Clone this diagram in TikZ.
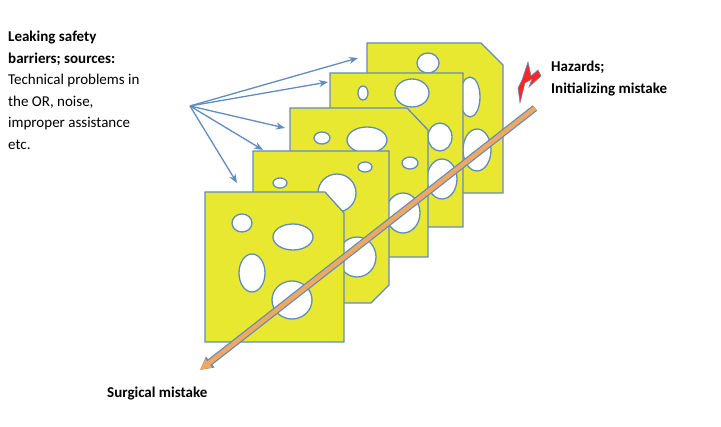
\documentclass[tikz,border=0pt]{standalone}
\usepackage{fontspec}
\setmainfont{Carlito}
\usetikzlibrary{arrows.meta}
\definecolor{cheese}{RGB}{232,232,48}
\definecolor{rim}{RGB}{96,140,190}
\definecolor{ray}{RGB}{240,168,96}
\tikzset{
  slice/.style={draw=rim, fill=cheese, line width=1.3pt},
  hole/.style={draw=rim, fill=white, line width=1.3pt},
  pointer/.style={draw=rim, line width=1.3pt, -{Stealth[length=9pt,width=7pt]}},
  lbl/.style={font=\fontsize{15}{21.5}\selectfont, align=left, anchor=north west, inner sep=0pt}
}
\begin{document}
\begin{tikzpicture}[x=1pt, y=-1pt]
\useasboundingbox (0,0) rectangle (721,427);

% slices, back to front
\path[slice] (367,43) -- (481,43) -- (503,65) -- (503,193) -- (367,193) -- cycle;
\path[hole] (428,63) ellipse (11pt and 10pt) (470,97) ellipse (10pt and 20pt) (477,150) ellipse (14pt and 21pt);

\path[slice] (330,73) -- (463,73) -- (463,227) -- (348,227) -- (330,207) -- cycle;
\path[hole] (363,93) ellipse (5pt and 7pt) (412,93) ellipse (17pt and 14pt) (440,137) ellipse (12pt and 14pt) (442,179) ellipse (15pt and 20pt);

\path[slice] (290,108) -- (407,108) -- (428,130) -- (428,257) -- (290,257) -- cycle;
\path[hole] (322,138) ellipse (8pt and 6pt) (367,140) ellipse (20pt and 13pt) (410,163) ellipse (8pt and 6pt) (403,213) ellipse (17pt and 20pt);

\path[slice] (253,151) -- (389,151) -- (389,285) -- (371,303) -- (253,303) -- cycle;
\path[hole] (280,183) ellipse (7pt and 5pt) (365,167) ellipse (7pt and 5pt) (337,193) ellipse (19pt and 19pt) (357,257) ellipse (19pt and 20pt);

\path[slice] (205,192) -- (325,192) -- (344,213) -- (344,342) -- (205,342) -- cycle;
\path[hole] (242,223) ellipse (10pt and 9pt) (293,237) ellipse (20pt and 13pt) (252,273) ellipse (13pt and 19pt) (292,300) ellipse (20pt and 19pt);

% the accident trajectory
\coordinate (start) at (535,108);
\coordinate (stop) at (200,370);
\draw[rim, line width=7pt, -{Triangle[length=13pt,width=13pt]}] (start) -- (stop);
\draw[ray, line width=4.5pt, -{Triangle[length=11pt,width=10pt]}] (start) -- (stop);

% hazard bolt
\filldraw[fill=red!85!white, draw=rim, line width=0.6pt]
  (528,62) -- (531,76) -- (538,70) -- (541,76) -- (529,87) -- (532,79) -- (525,83) -- (520,103) -- (518,88) -- (522,80) -- cycle;

% labels
\node[lbl] (barriers) at (8,31) {\textbf{Leaking safety}\\\textbf{barriers; sources:}\\Technical problems in\\the OR, noise,\\improper assistance\\etc.};
\node[lbl] (hazards) at (551,61) {\textbf{Hazards;}\\\textbf{Initializing mistake}};
\node[lbl] (surgical) at (107,387) {\textbf{Surgical mistake}};

% pointers to the barriers
\coordinate (src) at (190,106);
\coordinate (t5) at (358,58);
\coordinate (t4) at (328,82);
\coordinate (t3) at (285,128);
\coordinate (t2) at (263,150);
\coordinate (t1) at (237,183);
\foreach \t in {t1,t2,t3,t4,t5}
  \draw[pointer] (src) -- (\t);

\end{tikzpicture}
\end{document}
